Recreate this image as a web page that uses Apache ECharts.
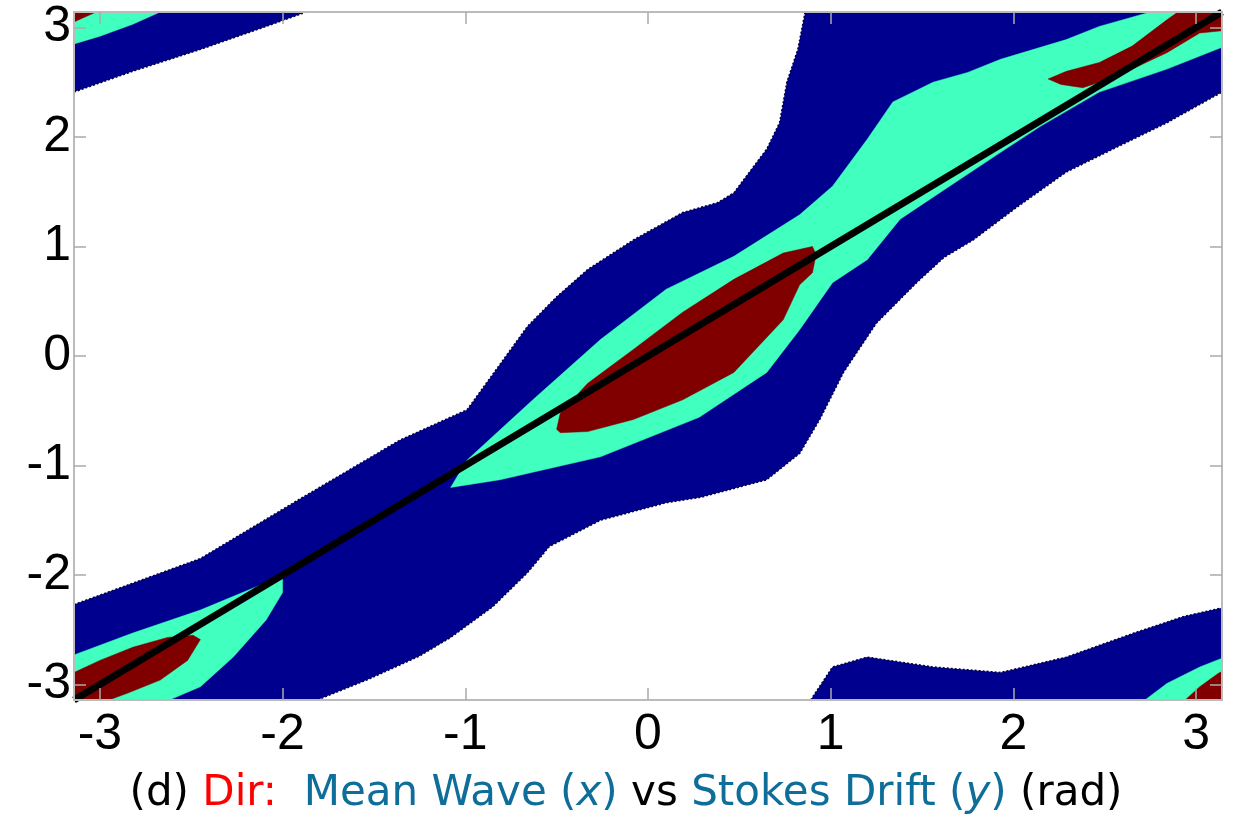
<!DOCTYPE html>
<html>
<head>
<meta charset="utf-8">
<script src="https://cdn.jsdelivr.net/npm/echarts@6/dist/echarts.min.js"></script>
<style>
  html, body { margin: 0; padding: 0; background: #fff; }
  #chart { width: 1252px; height: 820px; }
</style>
</head>
<body>
<div id="chart"></div>
<script>
const P = Math.PI;

// tick labels
const tickValues = [-3, -2, -1, 0, 1, 2, 3];

// lowest level (navy)
const navyMain = [[-P,-2.27],[-2.45,-1.85],[-1.91,-1.31],[-1.36,-0.77],[-0.99,-0.49],[-0.66,0.27],[-0.50,0.54],[-0.33,0.79],[-0.08,1.06],[0.19,1.31],[0.38,1.40],[0.47,1.49],[0.65,1.89],[0.72,2.13],[0.76,2.50],[0.82,2.80],[0.86,P],[P,P],[P,2.41],[2.84,2.13],[2.57,1.91],[2.29,1.68],[2.02,1.36],[1.78,1.06],[1.62,0.90],[1.47,0.67],[1.25,0.30],[1.07,-0.15],[0.94,-0.58],[0.83,-0.89],[0.65,-1.13],[0.29,-1.29],[0.10,-1.34],[-0.26,-1.50],[-0.54,-1.74],[-0.66,-1.98],[-0.85,-2.29],[-1.08,-2.57],[-1.25,-2.74],[-1.54,-2.96],[-1.81,-P],[-P,-P]];
const navyTL = [[-P,P],[-1.87,P],[-2.09,3.01],[-2.45,2.80],[-2.82,2.60],[-P,2.41]];
const navyBR = [[0.89,-P],[1.01,-2.84],[1.20,-2.75],[1.56,-2.84],[1.93,-2.89],[2.29,-2.75],[2.66,-2.53],[2.93,-2.38],[P,-2.30],[P,-P]];

// middle level (aquamarine)
const aquaMain = [[-1.08,-1.20],[-0.99,-0.95],[-0.63,-0.40],[-0.26,0.15],[0.10,0.61],[0.47,0.91],[0.83,1.29],[1.01,1.55],[1.20,1.98],[1.34,2.32],[1.56,2.50],[1.75,2.59],[1.93,2.71],[2.29,2.89],[2.47,3.01],[2.75,P],[P,P],[P,2.82],[2.84,2.62],[2.47,2.41],[2.15,2.10],[1.93,1.86],[1.65,1.55],[1.38,1.25],[1.20,0.88],[1.01,0.67],[0.83,0.24],[0.65,-0.15],[0.28,-0.56],[-0.26,-0.92],[-0.81,-1.13]];
const aquaBL = [[-P,-2.73],[-2.82,-2.53],[-2.45,-2.32],[-2.09,-2.07],[-2.00,-2.03],[-2.00,-2.16],[-2.09,-2.41],[-2.27,-2.75],[-2.45,-3.02],[-2.62,-P],[-P,-P]];
const aquaTL = [[-P,P],[-2.67,P],[-2.82,3.03],[-3.00,2.92],[-P,2.85]];
const aquaBR = [[2.72,-P],[2.84,-2.99],[3.02,-2.84],[P,-2.76],[P,-P]];

// top level (dark red)
const redMain = [[-0.50,-0.67],[-0.48,-0.52],[-0.33,-0.25],[-0.08,0.06],[0.19,0.40],[0.47,0.70],[0.74,0.94],[0.90,1.00],[0.92,0.93],[0.90,0.76],[0.83,0.65],[0.74,0.33],[0.47,-0.15],[0.19,-0.40],[-0.08,-0.58],[-0.33,-0.69],[-0.48,-0.70]];
const redTR = [[2.19,2.53],[2.29,2.60],[2.47,2.68],[2.65,2.83],[2.84,3.07],[2.90,P],[P,P],[P,2.97],[3.02,2.95],[2.84,2.77],[2.65,2.62],[2.47,2.50],[2.38,2.45],[2.26,2.48]];
const redTL = [[-P,P],[-3.02,P],[-3.09,3.09],[-P,3.05]];
const redBL = [[-P,-2.89],[-3.00,-2.78],[-2.82,-2.66],[-2.63,-2.57],[-2.49,-2.55],[-2.45,-2.59],[-2.52,-2.78],[-2.67,-2.96],[-2.85,-3.08],[-2.95,-P],[-P,-P]];
const redBR = [[2.94,-P],[3.02,-3.02],[3.12,-2.90],[P,-2.88],[P,-P]];

// y = x reference line
const diag = [[-P,-P],[P,P]];

const NAVY = '#00008f', AQUA = '#40ffbf', RED = '#800000';

function region(pts, color, stroke) {
  return {
    type: 'custom',
    clip: true,
    silent: true,
    data: pts,
    encode: { x: 0, y: 1 },
    renderItem: function (params, api) {
      if (params.dataIndex !== 0) return;
      const points = pts.map(p => api.coord(p));
      return {
        type: 'polygon',
        shape: { points: points },
        style: { fill: color, stroke: stroke || color, lineWidth: stroke ? 1.5 : 0.5, lineDash: stroke ? [2, 2] : null }
      };
    }
  };
}

const labelFont = { fontFamily: 'Liberation Sans', fontSize: 50, color: '#000' };
const tickStyle = { show: true, inside: true, length: 12, customValues: tickValues, lineStyle: { color: '#aaa', width: 1.5 } };
const lineStyle = { show: true, onZero: false, lineStyle: { color: '#bbb', width: 2 } };

const capFont = { fontFamily: 'DejaVu Sans', fontSize: 42, fontWeight: 'normal' };

const chart = echarts.init(document.getElementById('chart'));
chart.setOption({
  backgroundColor: '#fff',
  animation: false,
  title: {
    left: 'center',
    top: 768,
    text: '{k|(d) }{r|Dir:  }{b|Mean Wave (}{bi|x}{b|) }{k|vs }{b|Stokes Drift (}{bi|y}{b|) }{k|(rad)}',
    textStyle: {
      fontWeight: 'normal',
      rich: {
        k: Object.assign({ color: '#000' }, capFont),
        r: Object.assign({ color: '#ff0000' }, capFont),
        b: Object.assign({ color: '#0f6e99' }, capFont),
        bi: Object.assign({ color: '#0f6e99', fontStyle: 'italic' }, capFont)
      }
    }
  },
  grid: { left: 74, right: 30, top: 12, bottom: 120 },
  xAxis: [
    { type: 'value', min: -P, max: P, position: 'bottom', z: 10,
      axisLine: lineStyle, axisTick: tickStyle, splitLine: { show: false },
      axisLabel: Object.assign({ customValues: tickValues, margin: 10 }, labelFont) },
    { type: 'value', min: -P, max: P, position: 'top', z: 10,
      axisLine: lineStyle, axisTick: tickStyle, splitLine: { show: false },
      axisLabel: { show: false } }
  ],
  yAxis: [
    { type: 'value', min: -P, max: P, position: 'left', z: 10,
      axisLine: lineStyle, axisTick: tickStyle, splitLine: { show: false },
      axisLabel: Object.assign({ customValues: tickValues, margin: 3 }, labelFont) },
    { type: 'value', min: -P, max: P, position: 'right', z: 10,
      axisLine: lineStyle, axisTick: tickStyle, splitLine: { show: false },
      axisLabel: { show: false } }
  ],
  series: [
    region(navyMain, NAVY, '#000040'),
    region(navyTL, NAVY, '#000040'),
    region(navyBR, NAVY, '#000040'),
    region(aquaMain, AQUA),
    region(aquaBL, AQUA),
    region(aquaTL, AQUA),
    region(aquaBR, AQUA),
    region(redMain, RED),
    region(redTR, RED),
    region(redTL, RED),
    region(redBL, RED),
    region(redBR, RED),
    {
      type: 'line',
      data: diag,
      symbol: 'none',
      silent: true,
      lineStyle: { color: '#000', width: 7 },
      z: 5
    }
  ]
});
</script>
</body>
</html>
